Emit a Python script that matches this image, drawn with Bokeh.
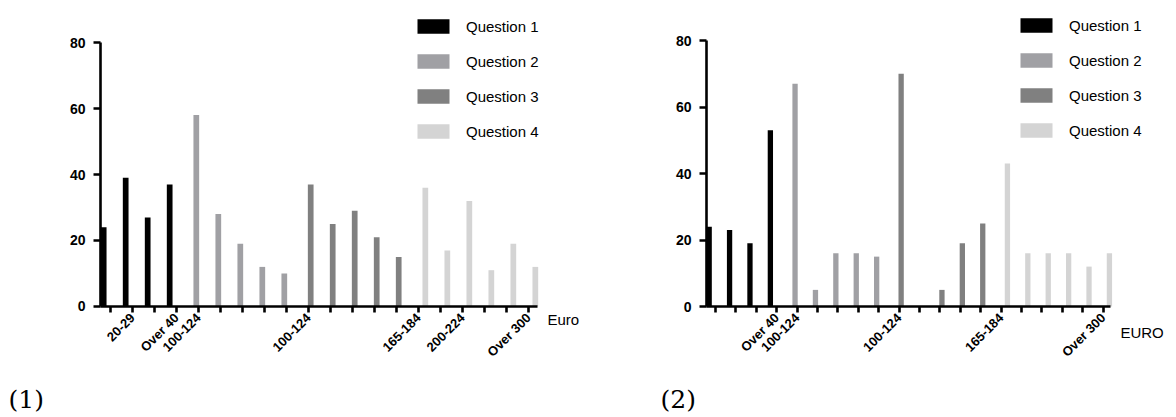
from bokeh.plotting import figure
from bokeh.models import FixedTicker, Label, Legend, LegendItem, Range1d
from bokeh.layouts import row
from bokeh.embed import file_html
from bokeh.resources import INLINE

# ---------------- data ----------------
series_names = ["Question 1", "Question 2", "Question 3", "Question 4"]
series_colors = ["#000000", "#a0a0a4", "#808080", "#d4d4d4"]

# chart (1)
c1_q1 = [24, 39, 27, 37]
c1_q2 = [58, 28, 19, 12, 10]
c1_q3 = [37, 25, 29, 21, 15]
c1_q4 = [36, 17, 32, 11, 19, 12]
c1_ticklabels = ["", "20-29", "", "Over 40", "100-124", "", "", "", "", "100-124",
                 "", "", "", "", "165-184", "", "200-224", "", "", "Over 300"]

# chart (2)
c2_q1 = [24, 23, 19, 53]
c2_q2 = [67, 5, 16, 16, 15]
c2_q3 = [70, 0, 5, 19, 25]
c2_q4 = [43, 16, 16, 16, 12, 16]
c2_ticklabels = ["", "", "", "Over 40", "100-124", "", "", "", "", "100-124",
                 "", "", "", "", "165-184", "", "", "", "", "Over 300"]

y_ticks = [0, 20, 40, 60, 80]
series_offsets = [-0.31, -0.1, 0.1, 0.31]

FONT = "Liberation Sans"


def make_chart(series, ticklabels, xr, yr, x_bounds, unit_label, unit_yoff,
               leg_x, leg_y, tag, tag_x):
    W, H = 588, 417
    p = figure(width=W, height=H, output_backend="svg", toolbar_location=None,
               x_range=Range1d(*xr), y_range=Range1d(*yr),
               min_border=0, min_border_left=0, min_border_right=0,
               min_border_top=0, min_border_bottom=0)
    p.outline_line_color = None
    p.xgrid.visible = False
    p.ygrid.visible = False
    p.background_fill_color = "white"
    p.border_fill_color = "white"

    items = []
    start = 0
    for vals, name, col, off in zip(series, series_names, series_colors, series_offsets):
        xs = [start + i + off for i in range(len(vals))]
        start += len(vals)
        r = p.vbar(x=xs, top=vals, width=0.26, bottom=0, fill_color=col, line_color=None)
        items.append(LegendItem(label=name, renderers=[r]))

    n = len(ticklabels)
    for ax in (p.xaxis[0], p.yaxis[0]):
        ax.axis_line_width = 2.6
        ax.axis_line_color = "black"
        ax.major_tick_line_width = 2.6
        ax.major_tick_line_color = "black"
        ax.major_tick_in = 0
        ax.major_tick_out = 6
        ax.minor_tick_line_color = None
        ax.major_label_text_font = FONT
        ax.major_label_text_font_style = "bold"
        ax.major_label_text_color = "black"

    p.xaxis.fixed_location = 0
    p.xaxis.bounds = x_bounds
    p.xaxis.ticker = FixedTicker(ticks=list(range(n)))
    p.xaxis.major_label_overrides = {i: t for i, t in enumerate(ticklabels)}
    p.xaxis.major_label_orientation = 0.785398
    p.xaxis.major_label_text_font_size = "13px"
    p.xaxis.major_label_standoff = 3

    p.yaxis.fixed_location = x_bounds[0]
    p.yaxis.bounds = (0, 80)
    p.yaxis.ticker = FixedTicker(ticks=y_ticks)
    p.yaxis.major_label_text_font_size = "14px"
    p.yaxis.major_label_standoff = 8
    p.yaxis.major_tick_out = 7

    legend = Legend(items=items, location=(leg_x, leg_y), orientation="vertical",
                    glyph_width=40, glyph_height=18, label_height=18,
                    spacing=17, padding=0, margin=0, label_standoff=13,
                    border_line_color=None, background_fill_alpha=0,
                    label_text_font=FONT, label_text_font_size="15px",
                    label_text_color="black")
    p.add_layout(legend, "center")

    p.add_layout(Label(x=x_bounds[1], y=0, x_offset=10, y_offset=unit_yoff, text=unit_label,
                       text_font=FONT, text_font_size="15px",
                       text_baseline="middle", text_align="left", text_color="black"))

    p.add_layout(Label(x=tag_x, y=18, x_units="screen", y_units="screen", text=tag,
                       text_font="DejaVu Serif", text_font_size="25px",
                       text_baseline="middle", text_align="left", text_color="black"))
    return p


p1 = make_chart([c1_q1, c1_q2, c1_q3, c1_q4], c1_ticklabels,
                (-5.0, 21.727), (-33.64, 92.73), (-0.45, 19.41), "Euro", -13,
                413, 277, "(1)", 8)
p2 = make_chart([c2_q1, c2_q2, c2_q3, c2_q4], c2_ticklabels,
                (-6.225, 22.598), (-33.38, 92.03), (-0.44, 19.36), "EURO", -26,
                428, 278, "(2)", 72)

layout = row(p1, p2)
open("out.html", "w").write(file_html(layout, INLINE))
